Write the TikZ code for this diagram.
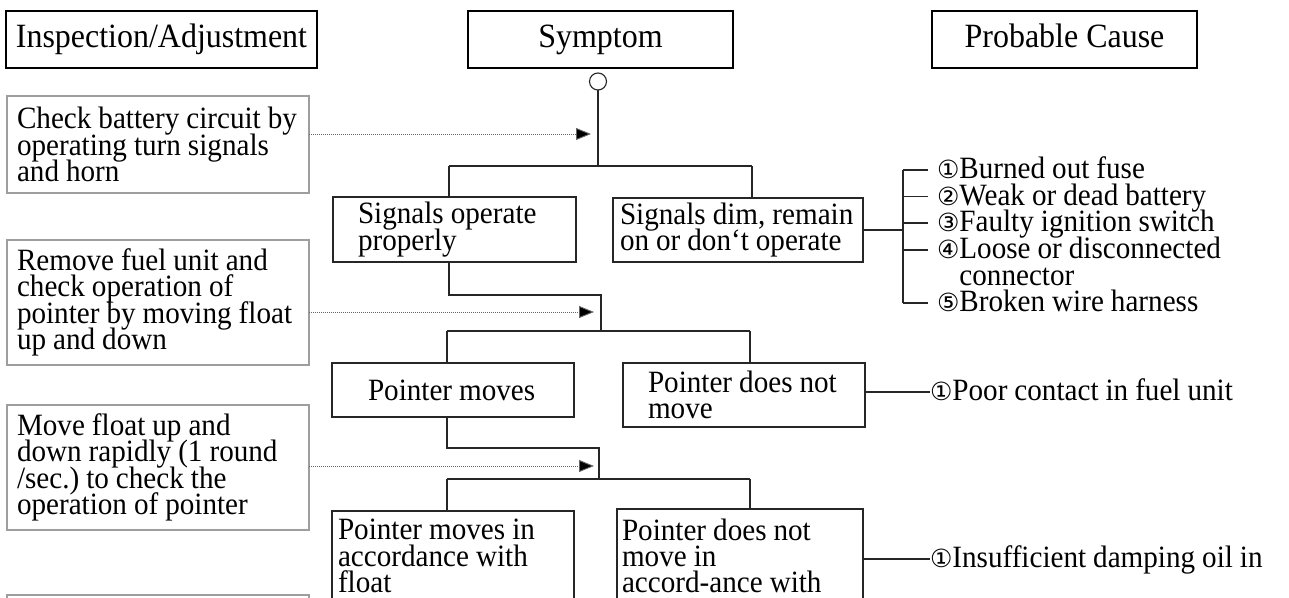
\documentclass[tikz,border=0pt]{standalone}
\usepackage{fontspec}
\setmainfont{Liberation Serif}[FakeStretch=0.94]
\newfontfamily\circfont{DejaVu Sans}
\usetikzlibrary{arrows.meta}
\frenchspacing
\newcommand\circnum[1]{{\circfont\fontsize{25}{26}\selectfont #1}}
\newcommand\tightlines{\lineskiplimit=-100pt\relax\lineskip=0pt\relax\baselineskip=26.3pt\relax\spaceskip=7pt plus 1pt minus 1pt\relax}
\newcommand\hdrfont{\fontsize{34}{36}\selectfont\spaceskip=8pt\relax}
\newcommand\bodyfont{\fontsize{31}{26.3}\selectfont\tightlines}
\newcommand\leftind[1]{\tightlines\leftskip=#1\relax\rightskip=0pt plus 1fil\relax\hyphenpenalty=10000\relax}
\begin{document}
\begin{tikzpicture}[x=1pt,y=-1pt,
  every node/.style={inner sep=0pt, outer sep=0pt},
  indentby/.style={execute at begin node={\leftind{#1}}},
  hdr/.style={draw=black, line width=1.1pt, anchor=north west, align=center,
    font=\hdrfont, minimum height=57pt, text height=23.5pt, text depth=7.5pt},
  lbox/.style={draw=black!38, line width=1.1pt, anchor=north west, align=left,
    font=\bodyfont, minimum width=302pt, text width=302pt, indentby=10pt},
  tbox/.style={draw=black!85, line width=1.1pt, anchor=north west, align=left,
    font=\bodyfont},
  cause/.style={anchor=west, align=left, font=\bodyfont,
    text height=19pt, text depth=2pt},
  conn/.style={draw=black!85, line width=1.1pt},
  darr/.style={draw=black!60, line width=0.9pt, dash pattern=on 0.9pt off 1.1pt,
    -{Triangle[length=15pt,width=12pt,fill=black]}}
]
\useasboundingbox (0,0) rectangle (1289,597);
\fill[white] (0,0) rectangle (1289,597);
\clip (0,0) rectangle (1289,597);

% headers
\node[hdr, minimum width=311pt] (h1) at (6,11) {Inspection/Adjustment};
\node[hdr, minimum width=265pt] (h2) at (468,11) {Symptom};
\node[hdr, minimum width=265pt] (h3) at (932,11) {Probable Cause};
\node[circle, draw=black!85, line width=1.1pt, minimum size=17pt] (c0) at (598,81.5) {};

% left column
\node[lbox, minimum height=97pt] (l1) at (7,96) {Check battery circuit by\\operating turn signals\\and horn};
\node[lbox, minimum height=125pt] (l2) at (7,240) {Remove fuel unit and\\check operation of\\pointer by moving float\\up and down};
\node[lbox, minimum height=125pt] (l3) at (7,405) {Move float up and\\down rapidly (1 round\\/sec.) to check the\\operation of pointer};
\node[lbox, minimum height=60pt] (l4) at (7,595) {};

% symptom tree
\node[tbox, minimum width=243pt, text width=243pt, minimum height=65pt, indentby=25pt] (s1) at (333,197) {Signals operate\\properly};
\node[tbox, minimum width=250pt, text width=250pt, minimum height=64pt, indentby=7pt] (s2) at (613,198) {Signals dim, remain\\on or don‘t operate};
\node[tbox, minimum width=242pt, text width=242pt, minimum height=54pt, indentby=36pt] (p1) at (332,363) {Pointer moves};
\node[tbox, minimum width=242pt, text width=242pt, minimum height=64pt, indentby=25pt] (p2) at (623,363) {Pointer does not\\move};
\node[tbox, minimum width=242pt, text width=242pt, minimum height=90pt, indentby=6pt] (q1) at (332,511) {Pointer moves in\\accordance with\\float};
\node[tbox, minimum width=246pt, text width=246pt, minimum height=94pt, indentby=5pt] (q2) at (617,509) {Pointer does not\\move in\\accord-ance with};

% causes
\node[cause, inner xsep=9pt] (c1) at (928,170) {\circnum{①}Burned out fuse};
\node[cause, inner xsep=9pt] (c2) at (928,196.5) {\circnum{②}Weak or dead battery};
\node[cause, inner xsep=9pt] (c3) at (928,223) {\circnum{③}Faulty ignition switch};
\node[cause, inner xsep=9pt] (c4) at (928,250) {\circnum{④}Loose or disconnected};
\node[cause, inner xsep=9pt] (c4b) at (928,276.5) {\phantom{\circnum{④}}connector};
\node[cause, inner xsep=9pt] (c5) at (928,303) {\circnum{⑤}Broken wire harness};
\node[cause] (r1) at (930,392) {\circnum{①}Poor contact in fuel unit};
\node[cause] (r2) at (930,559) {\circnum{①}Insufficient damping oil in};

% coordinates
\coordinate (j0) at (598,166);
\coordinate (b1l) at (449,166);
\coordinate (b1r) at (752,166);
\coordinate (t1) at (591,134);
\coordinate (j1a) at (601,295);
\coordinate (j1) at (601,331);
\coordinate (b2l) at (447,331);
\coordinate (b2r) at (750,331);
\coordinate (t2) at (594,312);
\coordinate (j2a) at (599,448);
\coordinate (j2) at (599,479);
\coordinate (b3l) at (447,479);
\coordinate (b3r) at (750,479);
\coordinate (t3) at (594,466);
\coordinate (k0) at (903,230);
\coordinate (k1) at (903,170);
\coordinate (k5) at (903,303);

% tree connectors
\draw[conn] (c0) -- (j0);
\draw[conn] (b1l) -- (b1r);
\draw[conn] (b1l) -- (b1l |- s1.north);
\draw[conn] (b1r) -- (b1r |- s2.north);
\draw[conn] (b1l |- s1.south) |- (j1a) -- (j1);
\draw[conn] (b2l) -- (b2r);
\draw[conn] (b2l) -- (b2l |- p1.north);
\draw[conn] (b2r) -- (b2r |- p2.north);
\draw[conn] (b2l |- p1.south) |- (j2a) -- (j2);
\draw[conn] (b3l) -- (b3r);
\draw[conn] (b3l) -- (b3l |- q1.north);
\draw[conn] (b3r) -- (b3r |- q2.north);

% cause connectors
\draw[conn] (s2.east |- k0) -- (k0);
\draw[conn] (k1) -- (k5);
\draw[conn] (k1) -- (c1.west);
\draw[conn] (k1 |- c2.west) -- (c2.west);
\draw[conn] (k1 |- c3.west) -- (c3.west);
\draw[conn] (k1 |- c4.west) -- (c4.west);
\draw[conn] (k5) -- (c5.west);
\draw[conn] (p2.east |- r1.west) -- (r1.west);
\draw[conn] (q2.east |- r2.west) -- (r2.west);

% dotted arrows
\draw[darr] (l1.east |- t1) -- (t1);
\draw[darr] (l2.east |- t2) -- (t2);
\draw[darr] (l3.east |- t3) -- (t3);
\end{tikzpicture}
\end{document}
